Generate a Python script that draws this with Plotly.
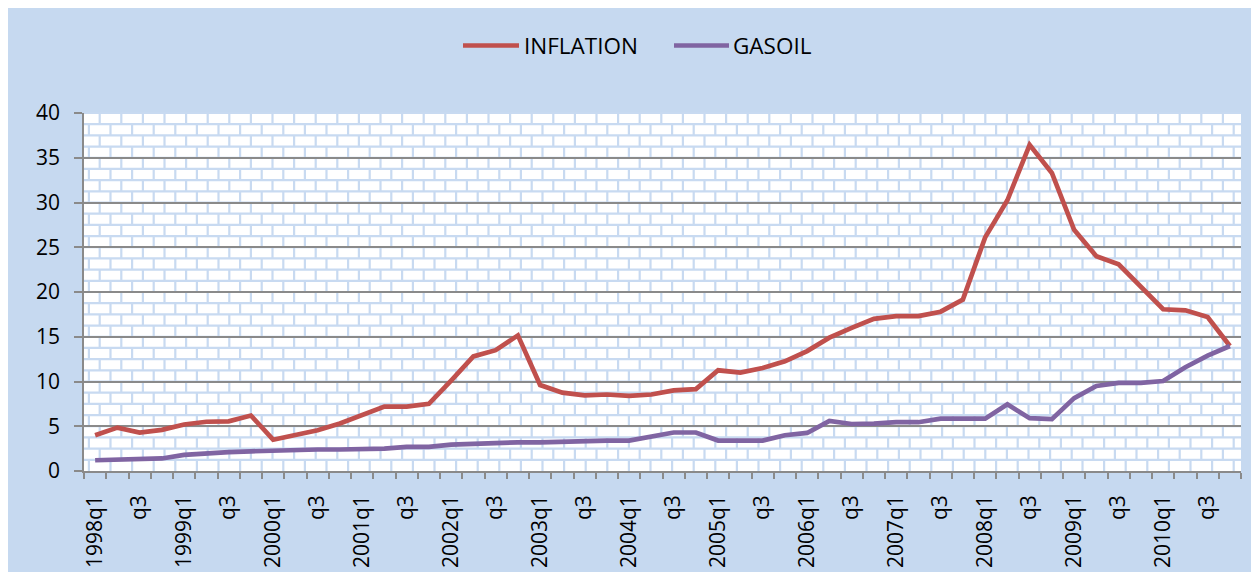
import plotly.graph_objects as go

# ---------------- data ----------------
years = list(range(1998, 2011))
quarters = [f"{y}q{q}" for y in years for q in (1, 2, 3, 4)]
tick_text = [f"{y}q1" if q == 1 else ("q3" if q == 3 else "") for y in years for q in (1, 2, 3, 4)]

inflation = [4.0, 4.85, 4.3, 4.6, 5.2, 5.5, 5.55, 6.2, 3.5, 4.0,
             4.55, 5.3, 6.2, 7.2, 7.2, 7.5, 10.1, 12.8, 13.5, 15.15,
             9.6, 8.75, 8.45, 8.55, 8.4, 8.55, 9.0, 9.15, 11.25, 11.0,
             11.5, 12.25, 13.4, 14.9, 16.0, 17.0, 17.3, 17.3, 17.8, 19.15,
             26.1, 30.25, 36.45, 33.3, 26.95, 24.0, 23.1, 20.55, 18.07, 17.95,
             17.2, 13.97]
gasoil = [1.2, 1.25, 1.3, 1.4, 1.8, 2.0, 2.1, 2.2, 2.3, 2.3,
          2.4, 2.4, 2.4, 2.5, 2.7, 2.7, 2.95, 3.05, 3.1, 3.2,
          3.2, 3.3, 3.3, 3.4, 3.4, 3.9, 4.3, 4.3, 3.4, 3.4,
          3.4, 4.0, 4.25, 5.6, 5.25, 5.3, 5.45, 5.45, 5.85, 5.85,
          5.85, 7.45, 5.9, 5.8, 8.15, 9.5, 9.85, 9.85, 10.05, 11.6,
          12.9, 13.97]

series_names = ["INFLATION", "GASOIL"]
series_colors = ["#C0504D", "#8064A2"]

# ---------------- layout geometry ----------------
# the page body keeps its default 8px margin (white strip at left/top)
OFF = 8
W, H = 1259 - OFF, 572 - OFF
L, R, T, B = 84 - OFF, 18, 113 - OFF, 572 - 471
PW, PH = W - L - R, H - T - B
FONT = "Open Sans"
FS = 21
BG = "#C6D9F0"
GRID = "#8A8A8A"


def px_x(px):  # page pixel -> paper
    return (px - OFF - L) / PW


def px_y(py):  # page pixel -> paper
    return (H - B - (py - OFF)) / PH


fig = go.Figure()
for name, vals, col in zip(series_names, [inflation, gasoil], series_colors):
    fig.add_trace(go.Scatter(x=quarters, y=vals, mode="lines", name=name,
                             line=dict(color=col, width=4.7), showlegend=False))

shapes = []
# plot area fill
shapes.append(dict(type="rect", xref="paper", yref="paper", layer="below",
                   x0=0, x1=1, y0=0, y1=1, fillcolor="white", line=dict(width=0)))
# brick pattern
rows = 32
period = 21.6
parts = []
for t in range(rows):
    ytop = 1 - t / rows
    ybot = 1 - (t + 1) / rows
    parts.append(f"M0,{ytop:.5f}L1,{ytop:.5f}")
    px = 99.7 - (t % 2) * period / 2
    while px > 84:
        px -= period
    px += period
    while px < 84 + PW:
        xf = px_x(px)
        parts.append(f"M{xf:.5f},{ytop:.5f}L{xf:.5f},{ybot:.5f}")
        px += period
shapes.append(dict(type="path", xref="paper", yref="paper", layer="below",
                   path="".join(parts), line=dict(color="#C8DAF1", width=2.2)))

# manual legend
annotations = []
legend_items = [(463, 519, 522), (674, 729, 731)]
for (lx0, lx1, tx), name, col in zip(legend_items, series_names, series_colors):
    shapes.append(dict(type="line", xref="paper", yref="paper", layer="above",
                       x0=px_x(lx0), x1=px_x(lx1), y0=px_y(45.5), y1=px_y(45.5),
                       line=dict(color=col, width=4.7)))
    annotations.append(dict(xref="paper", yref="paper", x=px_x(tx), y=px_y(45),
                            xanchor="left", yanchor="middle", showarrow=False,
                            text=name, font=dict(family=FONT, size=22.5, color="black")))

fig.update_layout(
    width=W, height=H,
    margin=dict(l=L, r=R, t=T, b=B, autoexpand=False),
    paper_bgcolor=BG,
    plot_bgcolor="rgba(0,0,0,0)",
    showlegend=False,
    shapes=shapes,
    annotations=annotations,
    font=dict(family=FONT, size=FS, color="black"),
)
fig.update_xaxes(
    type="category", range=[-0.5, len(quarters) - 0.5],
    tickmode="array", tickvals=quarters, ticktext=tick_text,
    tickson="boundaries", ticks="outside", ticklen=6, tickwidth=1.5, tickcolor=GRID,
    tickangle=-90, showgrid=False, showline=True, linecolor=GRID, linewidth=1.5,
    tickfont=dict(family=FONT, size=FS, color="black"), ticklabelstandoff=14,
)
fig.update_yaxes(
    range=[0, 40], dtick=5, tick0=0, ticks="outside", ticklen=8, tickwidth=1.5,
    tickcolor=GRID, showgrid=True, gridcolor=GRID, gridwidth=1.5, zeroline=False,
    showline=True, linecolor=GRID, linewidth=1.5,
    tickfont=dict(family=FONT, size=FS, color="black"), ticklabelstandoff=10,
)

fig.write_html("out.html")
